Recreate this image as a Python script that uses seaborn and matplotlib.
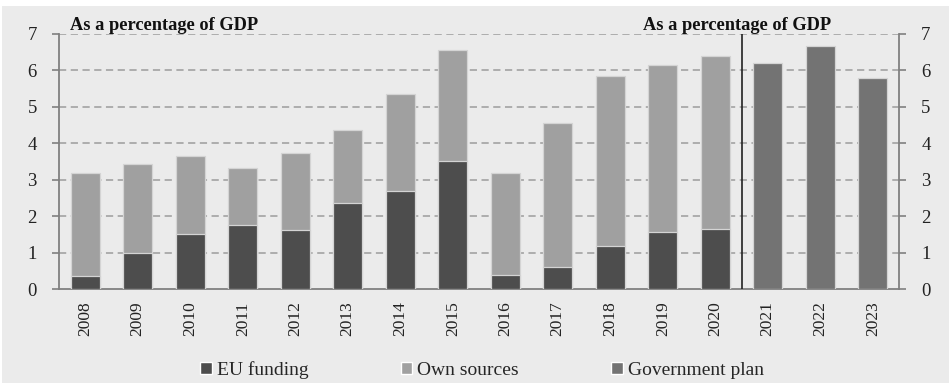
import numpy as np
import pandas as pd
import matplotlib
matplotlib.use('Agg')
import matplotlib.pyplot as plt
import seaborn as sns
from matplotlib.patches import Patch, Rectangle

# Данные (в % ВВП)
years = [str(y) for y in range(2008, 2024)]
hist_years = [str(y) for y in range(2008, 2021)]
plan_years = ['2021', '2022', '2023']
eu_funding = [0.35, 1.0, 1.52, 1.77, 1.62, 2.37, 2.7, 3.52, 0.38, 0.6, 1.18, 1.57, 1.65]
total_hist = [3.18, 3.42, 3.65, 3.33, 3.72, 4.37, 5.35, 6.55, 3.18, 4.55, 5.85, 6.15, 6.4]
gov_plan = [6.2, 6.68, 5.79]
y_ticks = [0, 1, 2, 3, 4, 5, 6, 7]

c_eu = '#4d4d4d'
c_own = '#a0a0a0'
c_gov = '#737373'
bg = '#ebebeb'

sns.set_style('white')
plt.rcParams['font.family'] = ['Liberation Serif', 'DejaVu Serif']

totals = pd.DataFrame({
    'year': hist_years + plan_years,
    'value': total_hist + gov_plan,
    'series': ['Own sources'] * len(hist_years) + ['Government plan'] * len(plan_years),
})
eu = pd.DataFrame({'year': hist_years, 'value': eu_funding})

fig = plt.figure(figsize=(9.49, 3.83), dpi=100, facecolor='white')
fig.patches.append(Rectangle((2 / 949, 0), 1, 1 - 6 / 383, transform=fig.transFigure,
                             facecolor=bg, edgecolor='none', zorder=-1))
ax = fig.add_axes([59 / 949, 1 - 289 / 383, 840 / 949, 255 / 383])
ax.set_facecolor(bg)

sns.barplot(data=totals, x='year', y='value', hue='series', order=years,
            palette={'Own sources': c_own, 'Government plan': c_gov},
            dodge=False, width=0.56, edgecolor='#d4d4d4', linewidth=0.9,
            legend=False, ax=ax, zorder=3)
sns.barplot(data=eu, x='year', y='value', order=years, color=c_eu,
            width=0.56, edgecolor='#d4d4d4', linewidth=0.9, ax=ax, zorder=4)

ax.set_xlim(-0.5, len(years) - 0.5)
ax.set_ylim(0, 7)
ax.set_yticks(y_ticks)
ax.set_xlabel('')
ax.set_ylabel('')

# сетка
for v in y_ticks[1:]:
    ax.axhline(v, color='#a8a8a8', lw=1.3, ls=(0, (4, 2.5)), zorder=1)

ax.axvline(12.5, color='#222222', lw=1.2, zorder=5)

ax.spines['top'].set_visible(False)
for s in ['left', 'right', 'bottom']:
    ax.spines[s].set_visible(True)
    ax.spines[s].set_color('#808080')
    ax.spines[s].set_linewidth(1.3)

ax.tick_params(axis='y', left=True, right=True, labelleft=True, labelright=True,
               direction='out', length=5, width=1.2, color='#808080',
               labelsize=13.5, labelcolor='#222222', pad=11)
ax.set_xticks(np.arange(len(years)))
ax.set_xticklabels(years, rotation=90)
ax.set_xticks(np.arange(len(years) + 1) - 0.5, minor=True)
ax.tick_params(axis='x', which='major', length=0, labelsize=12.5, labelcolor='#222222', pad=9)
ax.tick_params(axis='x', which='minor', length=5, width=1.2, color='#808080', direction='out')

fig.text(70 / 949, 1 - 30 / 383, 'As a percentage of GDP', fontsize=13.2,
         fontweight='bold', va='baseline', ha='left', color='#111111')
fig.text(643 / 949, 1 - 30 / 383, 'As a percentage of GDP', fontsize=13.2,
         fontweight='bold', va='baseline', ha='left', color='#111111')

handles = [Patch(facecolor=c_eu, label='EU funding'),
           Patch(facecolor=c_own, label='Own sources'),
           Patch(facecolor=c_gov, label='Government plan')]
fig.legend(handles=handles, loc='center', bbox_to_anchor=(482 / 949, 1 - 370 / 383), ncol=3,
           frameon=False, fontsize=14, handlelength=0.6, handleheight=0.6,
           handletextpad=0.25, columnspacing=4.75)

fig.savefig('out.png', dpi=100, facecolor=fig.get_facecolor())
